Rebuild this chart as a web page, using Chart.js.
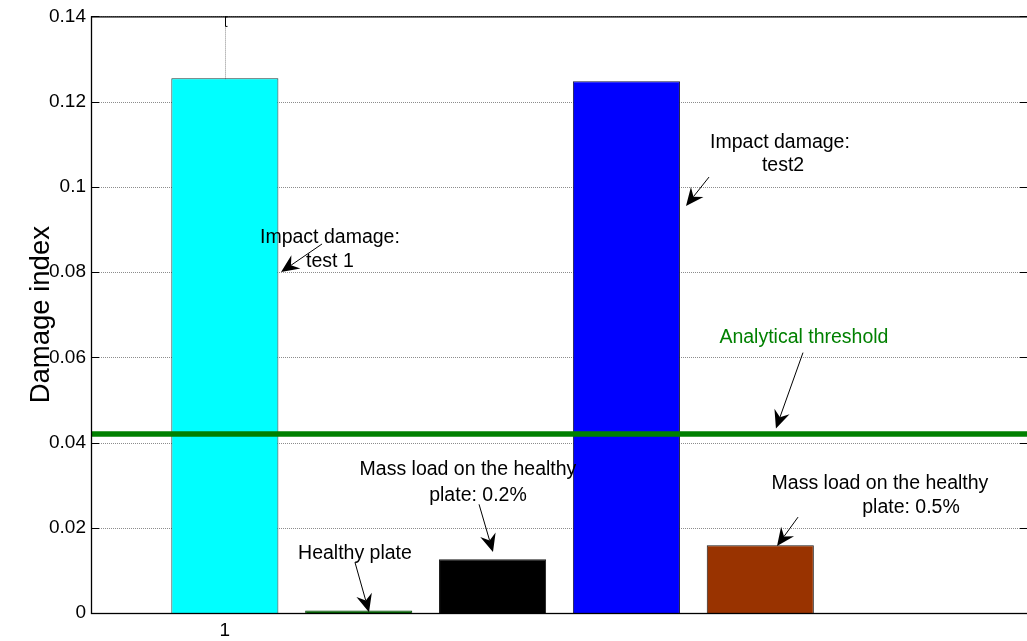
<!DOCTYPE html>
<html><head><meta charset="utf-8">
<script src="https://cdn.jsdelivr.net/npm/chart.js@4"></script>
<style>
html,body{margin:0;padding:0;background:#fff;overflow:hidden;}
#wrap{width:1027px;height:641px;overflow:hidden;position:relative;background:#fff;}
#c{position:absolute;left:0;top:0;}
</style></head><body>
<div id="wrap"><canvas id="c" width="1029" height="641"></canvas></div>
<script>
// ---- data ----
const categories = ['Impact damage: test 1', 'Healthy plate', 'Mass load 0.2%', 'Impact damage: test2', 'Mass load 0.5%'];
const barPositions = [1, 2, 3, 4, 5];
const damageIndex = [0.1255, 0.0006, 0.0126, 0.1248, 0.0159];
const barColors = ['#00ffff', '#006400', '#000000', '#0000ff', '#993300'];
const barEdgeColors = ['#1a3a3a', '#004000', '#1a1a1a', '#1a1a40', '#1a1a1a'];
const thresholdValue = 0.042;
const thresholdSpan = [0, 7];
const xRange = [0, 7];
const xTickValues = [1];
const xTickLabels = ['1'];
const yTickValues = [0, 0.02, 0.04, 0.06, 0.08, 0.1, 0.12, 0.14];
const yTickLabels = ['0', '0.02', '0.04', '0.06', '0.08', '0.1', '0.12', '0.14'];
const yTitle = 'Damage index';

// annotation texts and anchors (data coordinates)
const annotationTexts = [
  ['Impact damage:', 'test 1'],
  ['Impact damage:', 'test2'],
  ['Analytical threshold'],
  ['Mass load on the healthy', 'plate: 0.2%'],
  ['Healthy plate'],
  ['Mass load on the healthy', 'plate: 0.5%']
];
const annotationAnchors = [
  [[1.785, 0.0880], [1.785, 0.0824]],
  [[5.147, 0.1104], [5.170, 0.1049]],
  [[5.326, 0.0647]],
  [[2.816, 0.0337], [2.891, 0.0276]],
  [[1.972, 0.01405]],
  [[5.894, 0.0304], [6.126, 0.0248]]
];
const arrowTails = [[1.726, 0.0866], [4.617, 0.1023], [5.319, 0.0611], [2.899, 0.0255], [1.972, 0.0119], [5.282, 0.0225]];
const arrowHeads = [[1.420, 0.0800], [4.445, 0.0955], [5.117, 0.0433], [3.003, 0.0143], [2.077, 0.0002], [5.125, 0.0157]];
const annotationColors = ['#000', '#000', '#008000', '#000', '#000', '#000'];

// ---- styles ----
const FONT = '"Liberation Sans", Arial, sans-serif';

function drawArrow(ctx, x1, y1, x2, y2) {
  const ang = Math.atan2(y2 - y1, x2 - x1);
  const c = Math.cos(ang), s = Math.sin(ang);
  const L = 18, W = 8, N = 12;
  const pt = (d, w) => [x2 - d * c - w * s, y2 - d * s + w * c];
  ctx.save();
  ctx.strokeStyle = '#000'; ctx.fillStyle = '#000'; ctx.lineWidth = 1;
  ctx.beginPath();
  const e = pt(N, 0);
  ctx.moveTo(x1, y1); ctx.lineTo(e[0], e[1]); ctx.stroke();
  ctx.beginPath();
  ctx.moveTo(x2, y2);
  let p = pt(L, W); ctx.lineTo(p[0], p[1]);
  p = pt(N, 0); ctx.lineTo(p[0], p[1]);
  p = pt(L, -W); ctx.lineTo(p[0], p[1]);
  ctx.closePath(); ctx.fill();
  ctx.restore();
}

const decor = {
  id: 'decor',
  beforeDatasetsDraw(chart) {
    const {ctx, chartArea: a, scales: {x, y}} = chart;
    ctx.save();
    ctx.strokeStyle = 'rgba(0,0,0,0.45)';
    ctx.lineWidth = 1;
    ctx.setLineDash([1, 1]);
    yTickValues.forEach(v => {
      const py = Math.round(y.getPixelForValue(v)) + 0.5;
      ctx.beginPath(); ctx.moveTo(a.left, py); ctx.lineTo(a.right, py); ctx.stroke();
    });
    xTickValues.forEach(v => {
      const px = Math.round(x.getPixelForValue(v)) + 0.5;
      ctx.beginPath(); ctx.moveTo(px, a.top); ctx.lineTo(px, a.bottom); ctx.stroke();
    });
    ctx.setLineDash([]);
    ctx.strokeStyle = '#000';
    ctx.lineWidth = 1;
    const T = 8;
    yTickValues.forEach(v => {
      const py = Math.round(y.getPixelForValue(v)) + 0.5;
      ctx.beginPath(); ctx.moveTo(a.left, py); ctx.lineTo(a.left + T, py); ctx.stroke();
      ctx.beginPath(); ctx.moveTo(a.right, py); ctx.lineTo(a.right - T, py); ctx.stroke();
    });
    xTickValues.forEach(v => {
      const px = Math.round(x.getPixelForValue(v)) + 0.5;
      ctx.beginPath(); ctx.moveTo(px, a.top); ctx.lineTo(px, a.top + T + 2); ctx.stroke();
      ctx.beginPath(); ctx.moveTo(px, a.top + 0.5); ctx.lineTo(px + 2, a.top + 0.5); ctx.stroke();
      ctx.beginPath(); ctx.moveTo(px, a.top + T + 2); ctx.lineTo(px + 2, a.top + T + 2); ctx.stroke();
      ctx.beginPath(); ctx.moveTo(px, a.bottom); ctx.lineTo(px, a.bottom - T); ctx.stroke();
    });
    ctx.restore();
  },
  afterDatasetsDraw(chart) {
    const {ctx, chartArea: a, scales: {x, y}} = chart;
    ctx.save();
    ctx.strokeStyle = '#000';
    ctx.lineWidth = 1.3;
    ctx.strokeRect(a.left + 0.5, a.top + 0.5, a.right - a.left, a.bottom - a.top);
    ctx.restore();

    ctx.save();
    ctx.font = '19.5px ' + FONT;
    ctx.textAlign = 'center';
    ctx.textBaseline = 'middle';
    annotationTexts.forEach((lines, i) => {
      ctx.fillStyle = annotationColors[i];
      lines.forEach((t, j) => {
        const [vx, vy] = annotationAnchors[i][j];
        ctx.fillText(t, x.getPixelForValue(vx), y.getPixelForValue(vy));
      });
      const [tx, ty] = arrowTails[i];
      const [hx, hy] = arrowHeads[i];
      drawArrow(ctx, x.getPixelForValue(tx), y.getPixelForValue(ty), x.getPixelForValue(hx), y.getPixelForValue(hy));
    });
    ctx.restore();
  }
};

new Chart(document.getElementById('c'), {
  data: {
    datasets: [
      {
        type: 'line',
        label: 'Analytical threshold',
        data: thresholdSpan.map(v => ({x: v, y: thresholdValue})),
        borderColor: '#008000',
        borderWidth: 5.5,
        pointRadius: 0,
        order: 0
      },
      {
        type: 'bar',
        label: 'Damage index',
        data: barPositions.map((p, i) => ({x: p, y: damageIndex[i]})),
        backgroundColor: barColors,
        borderColor: barEdgeColors,
        borderWidth: 1,
        borderSkipped: 'start',
        categoryPercentage: 1.0,
        barPercentage: 0.8,
        order: 1
      }
    ]
  },
  plugins: [decor],
  options: {
    responsive: false,
    animation: false,
    layout: {padding: {top: 15, right: 1, left: 0, bottom: 0}},
    plugins: {legend: {display: false}, tooltip: {enabled: false}},
    scales: {
      x: {
        type: 'linear',
        offset: false,
        bounds: 'ticks',
        min: xRange[0], max: xRange[1],
        afterBuildTicks: s => { s.ticks = xTickValues.map(v => ({value: v})); },
        afterDataLimits: s => { s.min = xRange[0]; s.max = xRange[1]; },
        afterFit: s => { s.height = 28; },
        ticks: {
          callback: (v) => xTickLabels[xTickValues.indexOf(v)],
          font: {family: FONT, size: 19},
          color: '#000',
          padding: 6,
          maxRotation: 0,
          autoSkip: false
        },
        grid: {display: false, drawTicks: false, offset: false},
        border: {display: false}
      },
      y: {
        type: 'linear',
        min: 0, max: 0.14,
        afterBuildTicks: s => { s.ticks = yTickValues.map(v => ({value: v})); },
        afterFit: s => { s.width = 91; },
        ticks: {
          callback: (v) => yTickLabels[yTickValues.findIndex(t => Math.abs(t - v) < 1e-9)],
          font: {family: FONT, size: 19},
          color: '#000',
          padding: 5,
          autoSkip: false
        },
        grid: {display: false, drawTicks: false},
        border: {display: false},
        title: {
          display: true,
          text: yTitle,
          font: {family: FONT, size: 27.5},
          color: '#000',
          padding: {top: 25, bottom: 0}
        }
      }
    }
  }
});
</script>
</body></html>
